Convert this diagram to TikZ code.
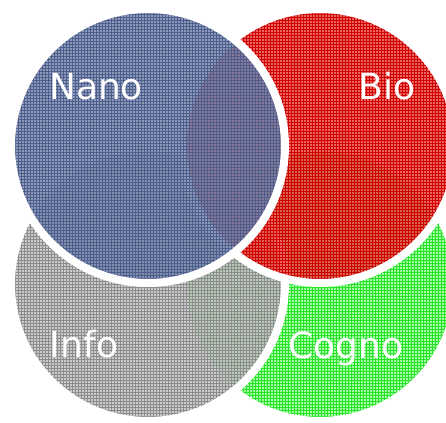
\documentclass[tikz,border=0pt]{standalone}
\usepackage{fontspec}
\setmainfont{DejaVu Sans}
\usetikzlibrary{patterns}

\definecolor{nanofill}{RGB}{112,128,170}
\definecolor{nanoline}{RGB}{78,94,140}
\definecolor{biofill}{RGB}{236,60,60}
\definecolor{bioline}{RGB}{205,0,0}
\definecolor{infofill}{RGB}{190,190,190}
\definecolor{infoline}{RGB}{140,140,140}
\definecolor{cognofill}{RGB}{140,255,140}
\definecolor{cognoline}{RGB}{40,225,40}

\begin{document}
\begin{tikzpicture}[
    x=1pt, y=1pt,
    field/.style={circle, draw=white, line width=8pt, minimum size=274pt, inner sep=0pt, fill opacity=0.8},
    fieldname/.style={text=white, font=\fontsize{36}{42}\selectfont, anchor=base, inner sep=0pt}
]
\useasboundingbox (0,0) rectangle (446,422);

% bottom row first, top row over it
\node[field, preaction={fill=cognofill}, pattern=grid, pattern color=cognoline] (cogno) at (320,138) {};
\node[field, preaction={fill=infofill}, pattern=grid, pattern color=infoline] (info) at (148,138) {};
\node[field, preaction={fill=biofill}, pattern=grid, pattern color=bioline] (bio) at (320,276) {};
\node[field, preaction={fill=nanofill}, pattern=grid, pattern color=nanoline] (nano) at (148,276) {};

\node[fieldname] (nanoname) at (96,322) {Nano};
\node[fieldname] (bioname) at (387,322) {Bio};
\node[fieldname] (infoname) at (84,64) {Info};
\node[fieldname] (cognoname) at (346,63) {Cogno};

\end{tikzpicture}
\end{document}
